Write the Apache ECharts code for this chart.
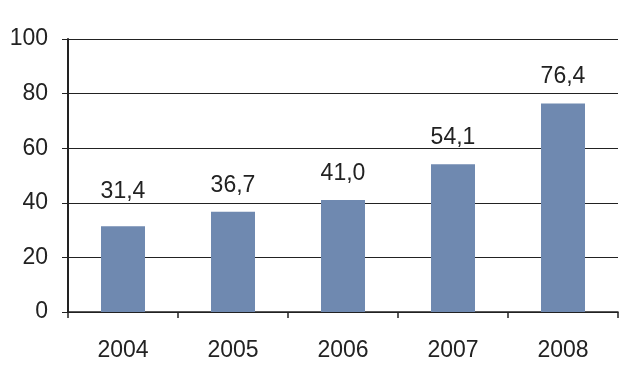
<!DOCTYPE html>
<html>
<head>
<meta charset="utf-8">
<script src="https://cdn.jsdelivr.net/npm/echarts@6/dist/echarts.min.js"></script>
<style>html,body{margin:0;padding:0;background:#fff}#c{width:632px;height:383px}</style>
</head>
<body>
<div id="c"></div>
<script>
const categories = ['2004', '2005', '2006', '2007', '2008'];
const values = [31.4, 36.7, 41.0, 54.1, 76.4];
const yTicks = [0, 20, 40, 60, 80, 100];

const chart = echarts.init(document.getElementById('c'), null, {renderer: 'canvas'});
const font = 'Liberation Sans, Arial, sans-serif';
chart.setOption({
  animation: false,
  grid: {left: 68, right: 14, top: 39, bottom: 71, containLabel: false},
  xAxis: {
    type: 'category',
    data: categories,
    axisLine: {lineStyle: {color: '#222', width: 1.5}},
    axisTick: {show: true, length: 6, lineStyle: {color: '#222', width: 1.5}, alignWithLabel: false},
    axisLabel: {color: '#222', fontSize: 23, fontFamily: font, margin: 27}
  },
  yAxis: {
    type: 'value',
    min: yTicks[0],
    max: yTicks[yTicks.length - 1],
    interval: 20,
    axisLine: {show: true, lineStyle: {color: '#222', width: 2}},
    axisTick: {show: true, length: 6, lineStyle: {color: '#222', width: 1}},
    splitLine: {show: true, lineStyle: {color: '#222', width: 1}},
    axisLabel: {color: '#222', fontSize: 23, fontFamily: font, margin: 20}
  },
  series: [{
    type: 'bar',
    barWidth: 44,
    itemStyle: {color: '#6f89b0'},
    label: {
      show: true,
      position: 'top',
      distance: 15,
      color: '#222',
      fontSize: 23,
      fontFamily: font,
      formatter: p => p.value.toFixed(1).replace('.', ',')
    },
    data: values.map((v, i) => i === 0 ? {value: v, label: {distance: 23}} : v)
  }]
});
</script>
</body>
</html>
